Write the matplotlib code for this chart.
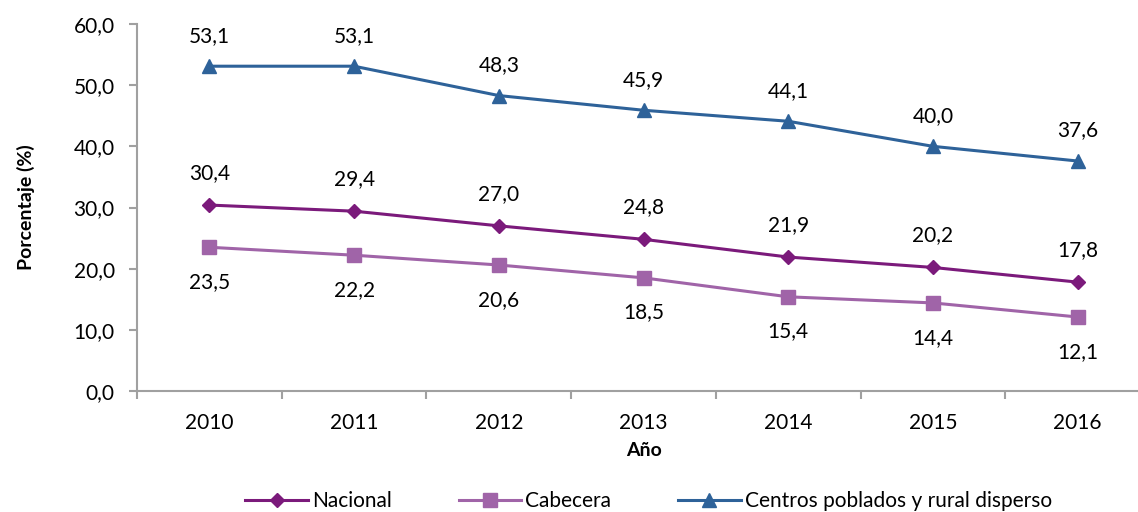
import matplotlib
matplotlib.use("Agg")
from matplotlib import pyplot as plt

years = ["2010", "2011", "2012", "2013", "2014", "2015", "2016"]
nacional = [30.4, 29.4, 27.0, 24.8, 21.9, 20.2, 17.8]
cabecera = [23.5, 22.2, 20.6, 18.5, 15.4, 14.4, 12.1]
rural = [53.1, 53.1, 48.3, 45.9, 44.1, 40.0, 37.6]

plt.rcParams['font.family'] = ['Lato', 'DejaVu Sans']

fig = plt.figure(figsize=(11.38, 5.12), dpi=100)
ax = fig.add_axes([137 / 1138, 1 - 391 / 512, 1013 / 1138, 367 / 512])

x = list(range(len(years)))
ax.plot(x, nacional, color="#7B1A7B", lw=2.2, marker="D", ms=7, label="Nacional")
ax.plot(x, cabecera, color="#A064A8", lw=2.2, marker="s", ms=10, label="Cabecera")
ax.plot(x, rural, color="#2E6299", lw=2.2, marker="^", ms=10, label="Centros poblados y rural disperso")

def fmt(v):
    return f"{v:.1f}".replace(".", ",")

for i in x:
    ax.annotate(fmt(rural[i]), (i, rural[i]), xytext=(0, 22), textcoords="offset points",
                ha="center", va="center", fontsize=15)
    ax.annotate(fmt(nacional[i]), (i, nacional[i]), xytext=(0, 23), textcoords="offset points",
                ha="center", va="center", fontsize=15)
    ax.annotate(fmt(cabecera[i]), (i, cabecera[i]), xytext=(0, -25), textcoords="offset points",
                ha="center", va="center", fontsize=15)

ax.set_xlim(-0.5, 6.5)
ax.set_ylim(0, 60)
ax.set_yticks(range(0, 61, 10))
ax.set_yticklabels([fmt(v) for v in range(0, 61, 10)], fontsize=15)
ax.set_xticks(x)
ax.set_xticklabels(years, fontsize=15)
ax.set_xticks([i - 0.5 for i in range(len(years) + 1)], minor=True)
ax.tick_params(axis="x", which="major", length=0, pad=16)
ax.tick_params(axis="x", which="minor", length=6, color="#A0A0A0", width=1.5)
ax.tick_params(axis="y", length=6, color="#A0A0A0", width=1.5, pad=10)

for s in ["top", "right"]:
    ax.spines[s].set_visible(False)
for s in ["left", "bottom"]:
    ax.spines[s].set_color("#A0A0A0")
    ax.spines[s].set_linewidth(1.5)

ax.set_ylabel("Porcentaje (%)", fontsize=14, fontweight="bold", labelpad=28)
ax.set_xlabel("Año", fontsize=14, fontweight="bold", labelpad=6)

fig.legend(loc="lower center", bbox_to_anchor=(0.57, -0.035), ncol=3, frameon=False,
           fontsize=15, handlelength=3, handletextpad=0.2, columnspacing=3.2)

fig.savefig("out.png", dpi=100)
